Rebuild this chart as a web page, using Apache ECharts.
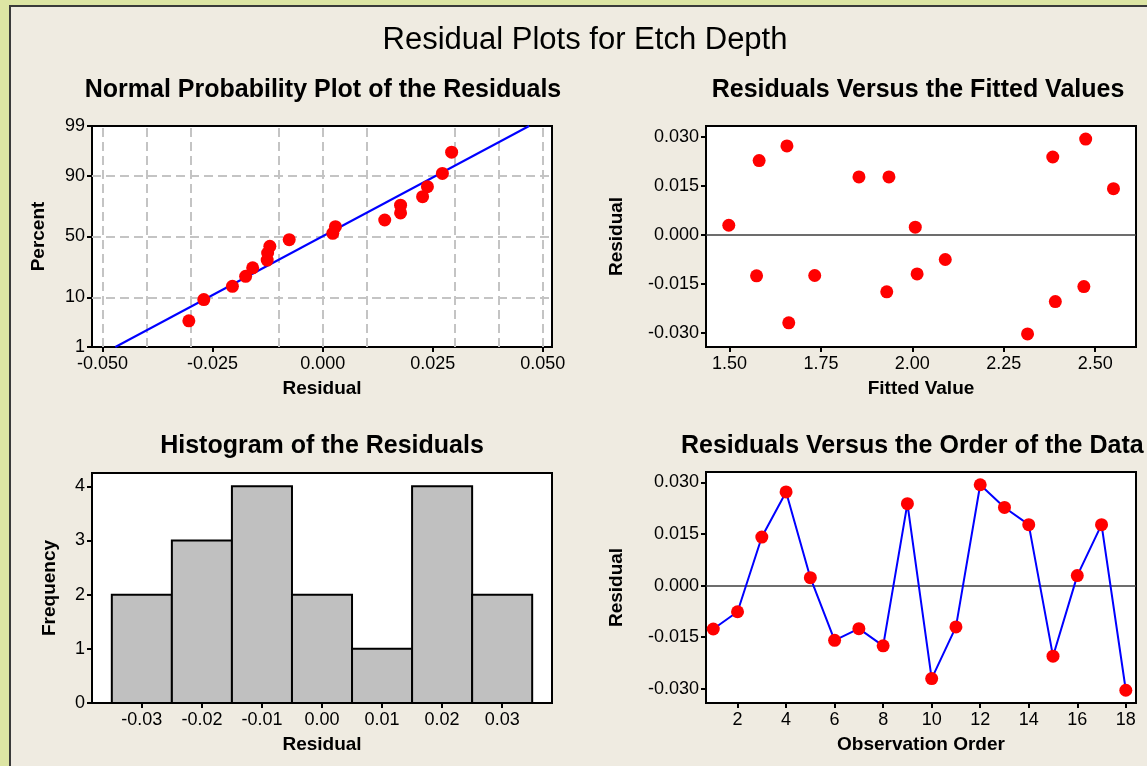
<!DOCTYPE html>
<html>
<head>
<meta charset="utf-8">
<title>Residual Plots for Etch Depth</title>
<script src="https://cdn.jsdelivr.net/npm/echarts@6/dist/echarts.min.js"></script>
<style>
  html, body { margin: 0; padding: 0; width: 1147px; height: 766px; overflow: hidden; background: #dde5a4; }
  #frame { position: absolute; left: 9px; top: 5px; width: 2000px; height: 2000px; background: #efebe1;
           border-left: 2px solid #3a3a3a; border-top: 2px solid #3a3a3a; }
  #chart { position: absolute; left: 0; top: 0; width: 1147px; height: 766px; }
</style>
</head>
<body>
<div id="frame"></div>
<div id="chart"></div>
<script>
// ---- data ----
const observationOrder = [1, 2, 3, 4, 5, 6, 7, 8, 9, 10, 11, 12, 13, 14, 15, 16, 17, 18];
const residuals = [-0.0126, -0.0076, 0.0141, 0.0272, 0.0023, -0.0159, -0.0125, -0.0175, 0.0238,
                   -0.0270, -0.0120, 0.0293, 0.0227, 0.0177, -0.0205, 0.0029, 0.0177, -0.0304];
const fittedValues = [1.574, 2.090, 2.550, 1.657, 2.008, 2.469, 1.733, 1.930, 2.384,
                      1.662, 2.013, 2.474, 1.581, 1.854, 2.391, 1.498, 1.936, 2.315];
// plotting positions (percent) of the ordered residuals
const plotPercent = [3.8, 9.2, 14.7, 20.1, 25.5, 31.0, 36.4, 41.8, 47.3,
                     52.7, 58.2, 63.6, 69.0, 74.5, 79.9, 85.3, 90.8, 96.2];
// fitted normal line, given by its residual values at 1 % and 99 %
const fitLinePercent = [1, 99];
const fitLineResidual = [-0.0471, 0.0469];

// histogram bins
const binCenters = [-0.03, -0.02, -0.01, 0.00, 0.01, 0.02, 0.03];
const binCounts = [2, 3, 4, 2, 1, 4, 2];
const binWidth = 0.01;

// tick labels
const percentTicks = [1, 10, 50, 90, 99];
const residualTicks = [-0.05, -0.025, 0, 0.025, 0.05];
const residualGrid = [-0.05, -0.0375, -0.025, -0.0125, 0, 0.0125, 0.025, 0.0375, 0.05];
const fittedTicks = [1.5, 1.75, 2.0, 2.25, 2.5];
const residualYTicks = [-0.03, -0.015, 0, 0.015, 0.03];
const histXTicks = [-0.03, -0.02, -0.01, 0, 0.01, 0.02, 0.03];
const freqTicks = [0, 1, 2, 3, 4];
const orderTicks = [2, 4, 6, 8, 10, 12, 14, 16, 18];

// ---- normal probability scale ----
function normInv(p) {
  const a = [-3.969683028665376e+01, 2.209460984245205e+02, -2.759285104469687e+02, 1.383577518672690e+02, -3.066479806614716e+01, 2.506628277459239e+00];
  const b = [-5.447609879822406e+01, 1.615858368580409e+02, -1.556989798598866e+02, 6.680131188771972e+01, -1.328068155288572e+01];
  const c = [-7.784894002430293e-03, -3.223964580411365e-01, -2.400758277161838e+00, -2.549671039773415e+00, 4.374664141464968e+00, 2.938163982698783e+00];
  const d = [7.784695709041462e-03, 3.224671290700398e-01, 2.445134137142996e+00, 3.754408661907416e+00];
  const pl = 0.02425, ph = 1 - pl;
  let q, r;
  if (p < pl) {
    q = Math.sqrt(-2 * Math.log(p));
    return (((((c[0]*q+c[1])*q+c[2])*q+c[3])*q+c[4])*q+c[5]) / ((((d[0]*q+d[1])*q+d[2])*q+d[3])*q+1);
  }
  if (p <= ph) {
    q = p - 0.5; r = q * q;
    return (((((a[0]*r+a[1])*r+a[2])*r+a[3])*r+a[4])*r+a[5])*q / (((((b[0]*r+b[1])*r+b[2])*r+b[3])*r+b[4])*r+1);
  }
  q = Math.sqrt(-2 * Math.log(1 - p));
  return -(((((c[0]*q+c[1])*q+c[2])*q+c[3])*q+c[4])*q+c[5]) / ((((d[0]*q+d[1])*q+d[2])*q+d[3])*q+1);
}
const z = pct => normInv(pct / 100);
const zTicks = percentTicks.map(z);
const zMin = z(1), zMax = z(99);

const sortedResiduals = residuals.slice().sort((u, v) => u - v);
const normalPoints = sortedResiduals.map((r, i) => [r, z(plotPercent[i])]);
const fitLine = fitLineResidual.map((r, i) => [r, z(fitLinePercent[i])]);
const fittedPoints = fittedValues.map((f, i) => [f, residuals[i]]);
const orderPoints = observationOrder.map((o, i) => [o, residuals[i]]);
const histData = binCenters.map((c, i) => [c, binCounts[i]]);

// ---- styling helpers ----
const FONT = '"Liberation Sans", Arial, sans-serif';
const tickLabel = { color: '#000', fontFamily: FONT, fontSize: 18 };
const axisName = { color: '#000', fontFamily: FONT, fontSize: 19, fontWeight: 'bold' };

function valueAxis(o) {
  return {
    type: 'value',
    gridIndex: o.grid,
    position: o.position,
    min: o.min, max: o.max,
    name: o.name, nameLocation: 'middle', nameGap: o.nameGap,
    nameTextStyle: axisName,
    axisLine: { show: false, onZero: false },
    splitLine: { show: false },
    axisTick: { show: true, customValues: o.ticks, length: 5, lineStyle: { color: '#000', width: 2 } },
    axisLabel: Object.assign({ customValues: o.ticks, formatter: o.fmt, margin: o.margin || 8 }, tickLabel)
  };
}

const gridStyle = { show: true, backgroundColor: '#ffffff', borderColor: '#000', borderWidth: 2,
                    containLabel: false, outerBoundsMode: 'none' };
const dashed = { color: '#c4c4c4', width: 2, type: [9, 5] };
const zeroLine = { color: '#3c3c3c', width: 1.5, type: 'solid' };
const redDot = { color: '#ff0000', opacity: 1, borderWidth: 0 };

// reference lines kept underneath the data marks
function guideSeries(xi, yi, lines, style) {
  return {
    type: 'line', xAxisIndex: xi, yAxisIndex: yi, data: [], z: 1, silent: true,
    markLine: { z: 1, silent: true, symbol: ['none', 'none'], label: { show: false }, animation: false,
                lineStyle: style, emphasis: { disabled: true }, data: lines }
  };
}

const titleText = (text, x, y, size, weight, align) => ({
  type: 'text', x: x, y: y, silent: true,
  style: { text: text, fill: '#000', align: align || 'center', verticalAlign: 'middle',
           font: (weight || 'normal') + ' ' + size + 'px ' + FONT }
});

const chart = echarts.init(document.getElementById('chart'), null, { renderer: 'canvas' });
chart.setOption({
  animation: false,
  backgroundColor: 'transparent',
  graphic: [
    titleText('Residual Plots for Etch Depth', 585, 40, 31, 'normal'),
    titleText('Normal Probability Plot of the Residuals', 323, 90, 25, 'bold'),
    titleText('Residuals Versus the Fitted Values', 918, 90, 25, 'bold'),
    titleText('Histogram of the Residuals', 322, 446, 25, 'bold'),
    titleText('Residuals Versus the Order of the Data', 681, 446, 25, 'bold', 'left')
  ],
  grid: [
    Object.assign({ left: 92, top: 126, width: 460, height: 221 }, gridStyle),
    Object.assign({ left: 706, top: 126, width: 430, height: 221 }, gridStyle),
    Object.assign({ left: 92, top: 473, width: 460, height: 230 }, gridStyle),
    Object.assign({ left: 706, top: 472, width: 430, height: 231 }, gridStyle)
  ],
  xAxis: [
    valueAxis({ grid: 0, position: 'bottom', min: -0.0524, max: 0.0521, name: 'Residual', nameGap: 32,
                ticks: residualTicks, fmt: v => v.toFixed(3) }),
    valueAxis({ grid: 1, position: 'bottom', min: 1.4357, max: 2.6116, name: 'Fitted Value', nameGap: 32,
                ticks: fittedTicks, fmt: v => v.toFixed(2) }),
    valueAxis({ grid: 2, position: 'bottom', min: -0.0383, max: 0.0383, name: 'Residual', nameGap: 32,
                ticks: histXTicks, fmt: v => v.toFixed(2) }),
    valueAxis({ grid: 3, position: 'bottom', min: 0.70, max: 18.42, name: 'Observation Order', nameGap: 32,
                ticks: orderTicks, fmt: v => String(Math.round(v)) })
  ],
  yAxis: [
    valueAxis({ grid: 0, position: 'left', min: zMin, max: zMax, name: 'Percent', nameGap: 44, margin: 7,
                ticks: zTicks, fmt: v => {
                  let best = 0;
                  zTicks.forEach((t, i) => { if (Math.abs(t - v) < Math.abs(zTicks[best] - v)) best = i; });
                  return String(percentTicks[best]);
                } }),
    valueAxis({ grid: 1, position: 'left', min: -0.0344, max: 0.0333, name: 'Residual', nameGap: 80, margin: 7,
                ticks: residualYTicks, fmt: v => v.toFixed(3) }),
    valueAxis({ grid: 2, position: 'left', min: 0, max: 4.245, name: 'Frequency', nameGap: 33, margin: 7,
                ticks: freqTicks, fmt: v => String(Math.round(v)) }),
    valueAxis({ grid: 3, position: 'left', min: -0.0341, max: 0.0330, name: 'Residual', nameGap: 80, margin: 7,
                ticks: residualYTicks, fmt: v => v.toFixed(3) })
  ],
  series: [
    // normal probability plot
    guideSeries(0, 0,
      residualGrid.map(v => ({ xAxis: v })).concat(
        [10, 50, 90].map(p => ({ yAxis: z(p) }))), dashed),
    { type: 'line', xAxisIndex: 0, yAxisIndex: 0, data: fitLine, z: 3, silent: true,
      symbol: 'none', lineStyle: { color: '#0000ff', width: 2 } },
    { type: 'scatter', xAxisIndex: 0, yAxisIndex: 0, data: normalPoints, z: 4, silent: true,
      symbol: 'circle', symbolSize: 13, itemStyle: redDot },

    // residuals versus fitted values
    guideSeries(1, 1, [{ yAxis: 0 }], zeroLine),
    { type: 'scatter', xAxisIndex: 1, yAxisIndex: 1, data: fittedPoints, z: 4, silent: true,
      symbol: 'circle', symbolSize: 13, itemStyle: redDot },

    // histogram
    { type: 'custom', xAxisIndex: 2, yAxisIndex: 2, data: histData, z: 3, silent: true,
      renderItem: (params, api) => {
        const c = api.value(0), n = api.value(1);
        const p0 = api.coord([c - binWidth / 2, n]);
        const p1 = api.coord([c + binWidth / 2, 0]);
        return { type: 'rect',
                 shape: { x: p0[0], y: p0[1], width: p1[0] - p0[0], height: p1[1] - p0[1] },
                 style: { fill: '#c0c0c0', stroke: '#000', lineWidth: 2 } };
      } },

    // residuals versus order
    guideSeries(3, 3, [{ yAxis: 0 }], zeroLine),
    { type: 'line', xAxisIndex: 3, yAxisIndex: 3, data: orderPoints, z: 4, silent: true,
      symbol: 'circle', symbolSize: 13, showSymbol: true, showAllSymbol: true,
      itemStyle: redDot,
      lineStyle: { color: '#0000ff', width: 2 } }
  ]
});
</script>
</body>
</html>
